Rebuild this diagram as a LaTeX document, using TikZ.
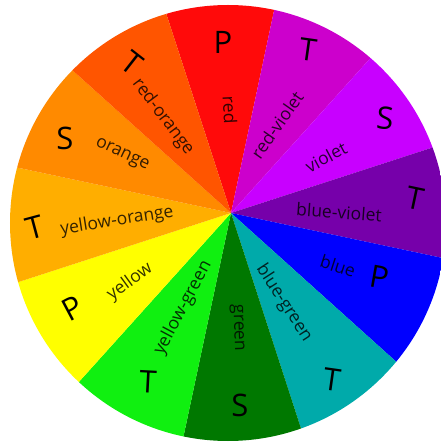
\documentclass[tikz,border=0pt]{standalone}
\usepackage{fontspec}
\setmainfont{Open Sans}
\definecolor{wred}{HTML}{FF0A0A}
\definecolor{wredviolet}{HTML}{CC00CC}
\definecolor{wviolet}{HTML}{C800FF}
\definecolor{wblueviolet}{HTML}{7600AA}
\definecolor{wblue}{HTML}{0000FF}
\definecolor{wbluegreen}{HTML}{00AAAA}
\definecolor{wgreen}{HTML}{007800}
\definecolor{wyellowgreen}{HTML}{10F010}
\definecolor{wyellow}{HTML}{FFFF00}
\definecolor{wyelloworange}{HTML}{FFAE00}
\definecolor{worange}{HTML}{FF8A00}
\definecolor{wredorange}{HTML}{FF5500}
\begin{document}
\begin{tikzpicture}[x = 1pt, y = 1pt,
	lbl/.style = {font = \fontsize{17.5}{17.5}\selectfont, text = black, text opacity = 0.8, inner sep = 0pt},
	big/.style = {font = \fontsize{31}{31}\selectfont, text = black, inner sep = 0pt}]
	\useasboundingbox (-231,-231) rectangle (210,213);
	\begin{scope}
	\clip (-3,-10) circle (218);
	\foreach \a/\c in {78/wred, 48/wredviolet, 18/wviolet, -12/wblueviolet, -42/wblue, -72/wbluegreen,
	-102/wgreen, -132/wyellowgreen, -162/wyellow, 168/wyelloworange, 138/worange, 108/wredorange}{
	\fill [\c] (0,0) -- (\a:400) arc [start angle = \a, end angle = \a+30, radius = 400] -- cycle;
	}
	\end{scope}
	% colour names
	\node [lbl, rotate = -87] (l-red) at (-1,103) {red};
	\node [lbl, rotate = 55] (l-redviolet) at (46,88) {red-violet};
	\node [lbl, rotate = 28] (l-violet) at (95,56) {violet};
	\node [lbl, rotate = -4] (l-blueviolet) at (108,1) {blue-violet};
	\node [lbl, rotate = -18] (l-blue) at (107,-53) {blue};
	\node [lbl, rotate = -57] (l-bluegreen) at (53,-90) {blue-green};
	\node [lbl, rotate = -88] (l-green) at (6,-115) {green};
	\node [lbl, rotate = 62] (l-yellowgreen) at (-48,-95) {yellow-green};
	\node [lbl, rotate = 36] (l-yellow) at (-101,-69) {yellow};
	\node [lbl, rotate = 9] (l-yelloworange) at (-114,-8) {yellow-orange};
	\node [lbl, rotate = -25] (l-orange) at (-109,58) {orange};
	\node [lbl, rotate = -53] (l-redorange) at (-68,96) {red-orange};
	% P, S, T
	\node [big] (b-red) at (-8,171) {P};
	\node [big, rotate = -8] (b-redviolet) at (77,163) {T};
	\node [big, rotate = -5] (b-violet) at (154,95) {S};
	\node [big, rotate = -12] (b-blueviolet) at (184,15) {T};
	\node [big, rotate = -10] (b-blue) at (149,-64) {P};
	\node [big, rotate = -8] (b-bluegreen) at (101,-167) {T};
	\node [big] (b-green) at (9,-192) {S};
	\node [big, rotate = -3] (b-yellowgreen) at (-83,-169) {T};
	\node [big, rotate = 28] (b-yellow) at (-158,-95) {P};
	\node [big, rotate = 15] (b-yelloworange) at (-196,-15) {T};
	\node [big] (b-orange) at (-166,75) {S};
	\node [big, rotate = -38] (b-redorange) at (-99,150) {T};
\end{tikzpicture}
\end{document}
